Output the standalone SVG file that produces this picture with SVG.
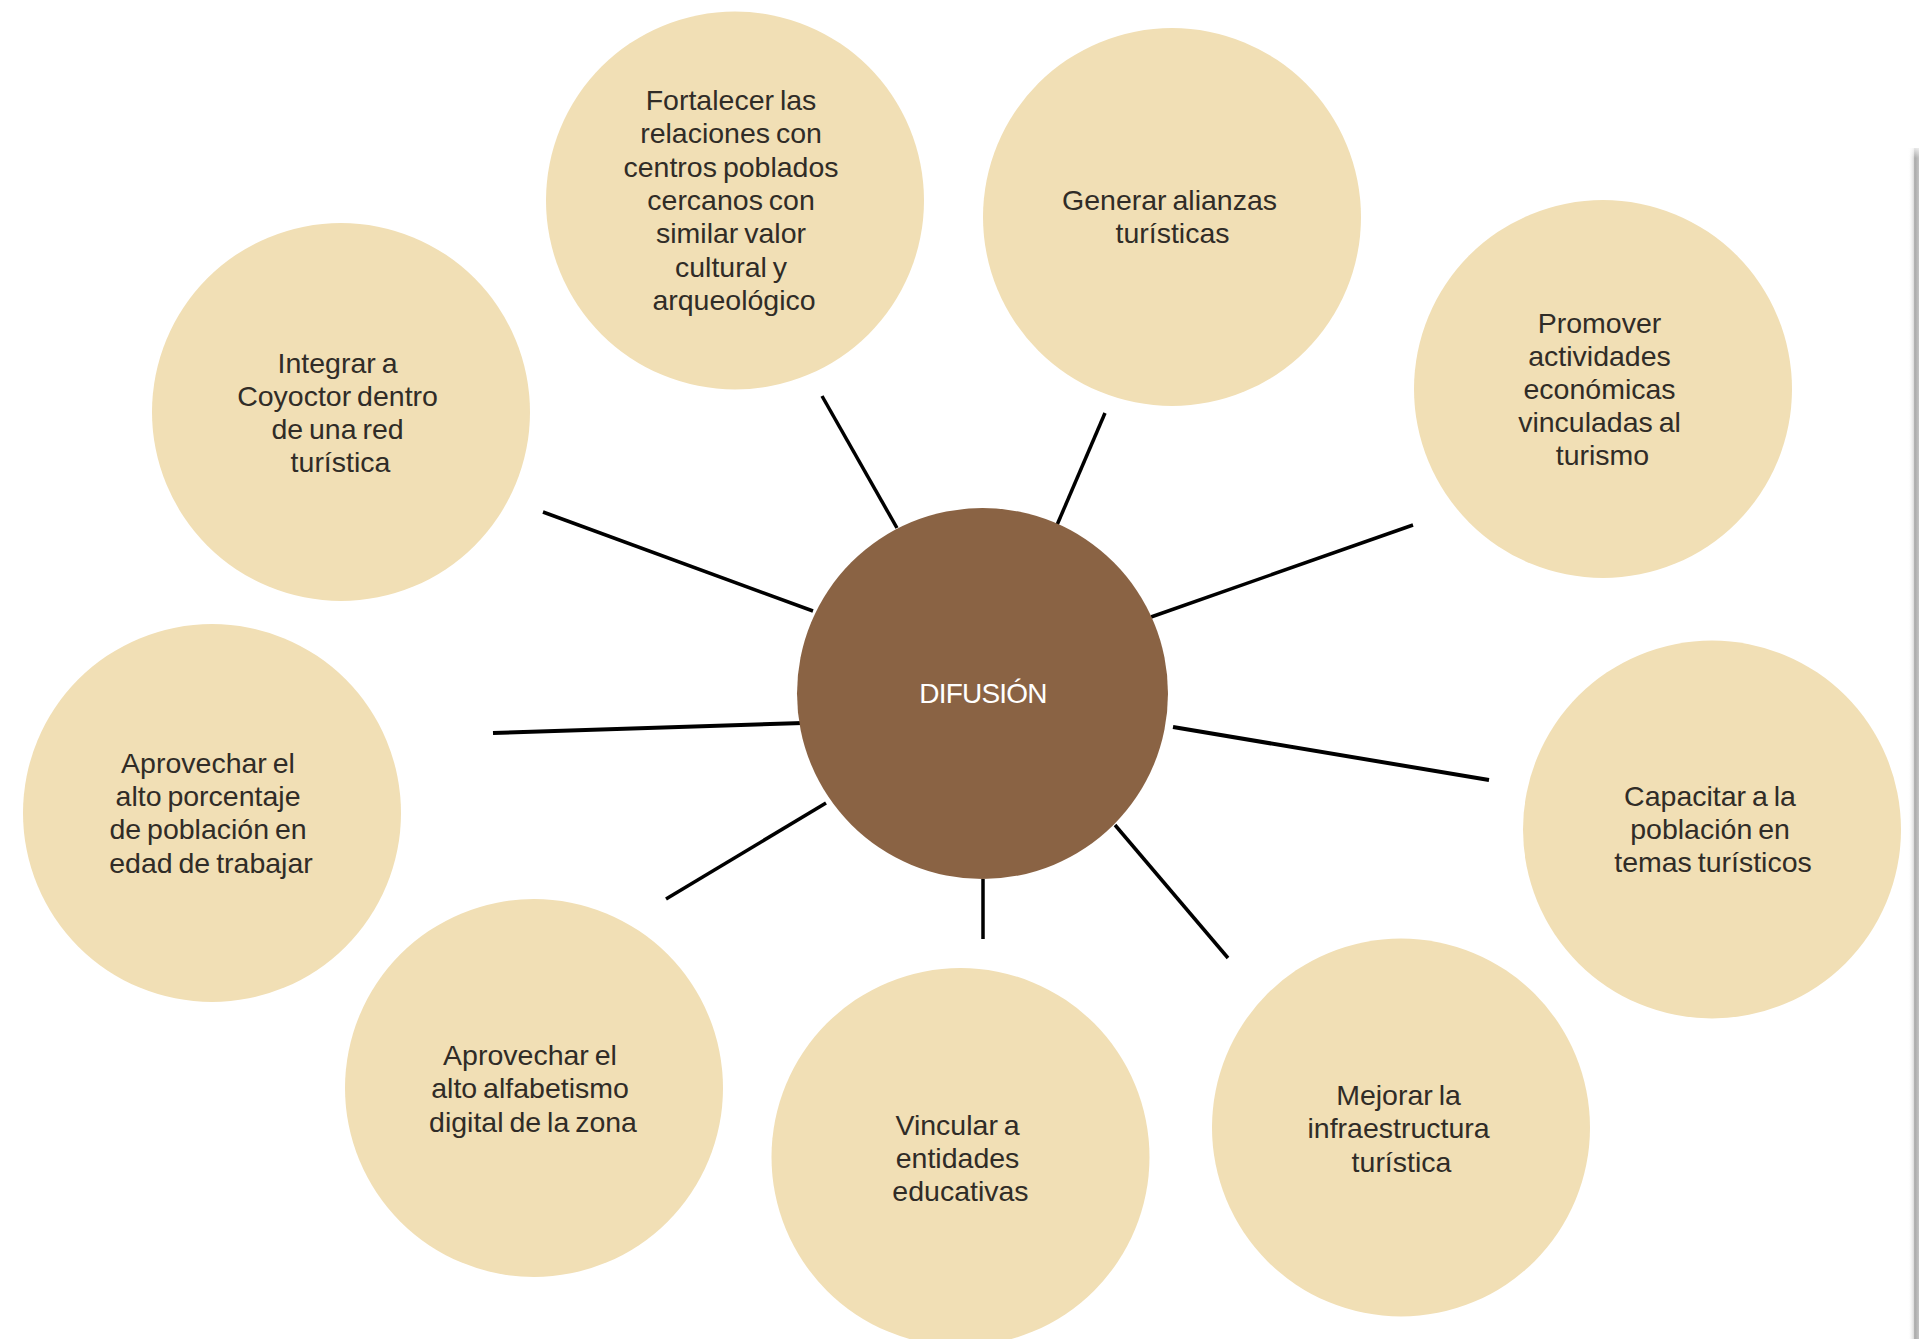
<svg xmlns="http://www.w3.org/2000/svg" width="1919" height="1339" viewBox="0 0 1919 1339">
  <defs>
    <style>
      .bubble { fill: #F1DFB5; }
      .hub { fill: #8A6344; }
      .lbl { font-family: "Liberation Sans", Arial, Helvetica, sans-serif; font-size: 28.5px; fill: #302c27; text-anchor: middle; word-spacing: -2px; }
      .hublbl { font-family: "Liberation Sans", Arial, Helvetica, sans-serif; font-size: 28px; fill: #ffffff; text-anchor: middle; letter-spacing: -0.8px; }
      .conn line { stroke: #000000; stroke-width: 3.5; stroke-linecap: butt; }
    </style>
    <linearGradient id="edgeShade" x1="0" y1="0" x2="1" y2="0">
      <stop offset="0" stop-color="#ffffff" stop-opacity="0"/>
      <stop offset="0.55" stop-color="#d8d8d8"/>
      <stop offset="0.6" stop-color="#a9a9a9"/>
      <stop offset="1" stop-color="#c4c4c4"/>
    </linearGradient>
    <linearGradient id="edgeTop" x1="0" y1="0" x2="0" y2="1">
      <stop offset="0" stop-color="#ffffff" stop-opacity="1"/>
      <stop offset="1" stop-color="#ffffff" stop-opacity="0"/>
    </linearGradient>
  </defs>

  <rect x="0" y="0" width="1919" height="1339" fill="#ffffff"/>

  <!-- page edge shadow -->
  <g id="page-edge">
    <rect x="1908" y="148" width="11" height="1191" fill="url(#edgeShade)"/>
    <rect x="1906" y="144" width="13" height="14" fill="url(#edgeTop)"/>
  </g>

  <g id="connectors" class="conn">
    <line x1="822" y1="396" x2="897" y2="528"/>
    <line x1="1105" y1="413" x2="1057" y2="525"/>
    <line x1="1413" y1="525" x2="1151" y2="617"/>
    <line x1="1173" y1="727" x2="1489" y2="780" style="stroke-width:4"/>
    <line x1="1115" y1="825" x2="1228" y2="958"/>
    <line x1="983" y1="879" x2="983" y2="939"/>
    <line x1="826" y1="803" x2="666" y2="899"/>
    <line x1="803" y1="723" x2="493" y2="733" style="stroke-width:4"/>
    <line x1="813" y1="611" x2="543" y2="512"/>
  </g>

  <g id="node-difusion">
    <circle class="hub" cx="982.5" cy="693.5" r="185.5"/>
    <text class="hublbl" x="983" y="703">DIFUSIÓN</text>
  </g>

  <g id="node-fortalecer">
    <circle class="bubble" cx="735" cy="200.5" r="189"/>
    <text class="lbl">
      <tspan x="734" y="110">Fortalecer las</tspan>
      <tspan x="734" y="143.3">relaciones con</tspan>
      <tspan x="734" y="176.7">centros poblados</tspan>
      <tspan x="734" y="210">cercanos con</tspan>
      <tspan x="734" y="243">similar valor</tspan>
      <tspan x="734" y="276.5">cultural y</tspan>
      <tspan x="734" y="310">arqueológico</tspan>
    </text>
  </g>

  <g id="node-generar">
    <circle class="bubble" cx="1172" cy="217" r="189"/>
    <text class="lbl">
      <tspan x="1172.5" y="210">Generar alianzas</tspan>
      <tspan x="1172.5" y="243">turísticas</tspan>
    </text>
  </g>

  <g id="node-promover">
    <circle class="bubble" cx="1603" cy="389" r="189"/>
    <text class="lbl">
      <tspan x="1602.5" y="332.7">Promover</tspan>
      <tspan x="1602.5" y="366">actividades</tspan>
      <tspan x="1602.5" y="399">económicas</tspan>
      <tspan x="1602.5" y="432">vinculadas al</tspan>
      <tspan x="1602.5" y="465">turismo</tspan>
    </text>
  </g>

  <g id="node-capacitar">
    <circle class="bubble" cx="1712" cy="829.5" r="189"/>
    <text class="lbl">
      <tspan x="1713" y="806">Capacitar a la</tspan>
      <tspan x="1713" y="839">población en</tspan>
      <tspan x="1713" y="871.5">temas turísticos</tspan>
    </text>
  </g>

  <g id="node-mejorar">
    <circle class="bubble" cx="1401" cy="1127.5" r="189"/>
    <text class="lbl">
      <tspan x="1401.5" y="1105">Mejorar la</tspan>
      <tspan x="1401.5" y="1138.3">infraestructura</tspan>
      <tspan x="1401.5" y="1171.7">turística</tspan>
    </text>
  </g>

  <g id="node-vincular">
    <circle class="bubble" cx="960.5" cy="1157" r="189"/>
    <text class="lbl">
      <tspan x="960.5" y="1135">Vincular a</tspan>
      <tspan x="960.5" y="1168">entidades</tspan>
      <tspan x="960.5" y="1200.5">educativas</tspan>
    </text>
  </g>

  <g id="node-alfabetismo">
    <circle class="bubble" cx="534" cy="1088" r="189"/>
    <text class="lbl">
      <tspan x="533" y="1065">Aprovechar el</tspan>
      <tspan x="533" y="1098.3">alto alfabetismo</tspan>
      <tspan x="533" y="1131.7">digital de la zona</tspan>
    </text>
  </g>

  <g id="node-porcentaje">
    <circle class="bubble" cx="212" cy="813" r="189"/>
    <text class="lbl">
      <tspan x="211" y="772.7">Aprovechar el</tspan>
      <tspan x="211" y="806">alto porcentaje</tspan>
      <tspan x="211" y="839.3">de población en</tspan>
      <tspan x="211" y="873">edad de trabajar</tspan>
    </text>
  </g>

  <g id="node-integrar">
    <circle class="bubble" cx="341" cy="412" r="189"/>
    <text class="lbl">
      <tspan x="340.5" y="373.3">Integrar a</tspan>
      <tspan x="340.5" y="406">Coyoctor dentro</tspan>
      <tspan x="340.5" y="439">de una red</tspan>
      <tspan x="340.5" y="472">turística</tspan>
    </text>
  </g>
</svg>
